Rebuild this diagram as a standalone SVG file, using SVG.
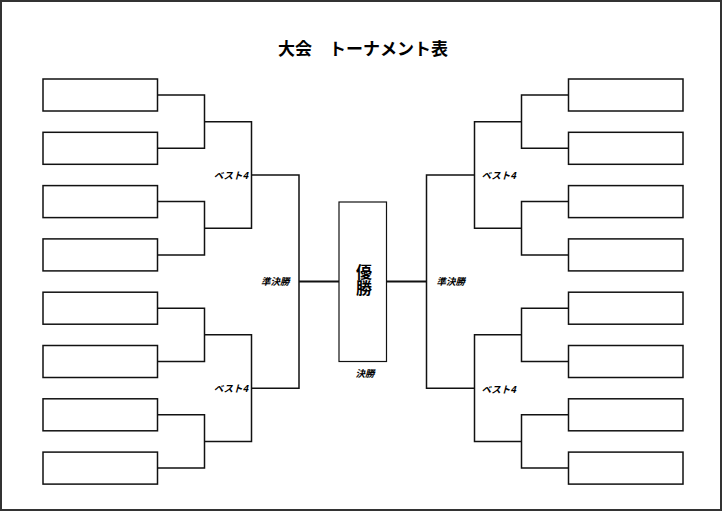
<svg xmlns="http://www.w3.org/2000/svg" width="723" height="512" viewBox="0 0 723 512">
<style>
.frame{fill:none;stroke:#333;stroke-width:2}
.box{fill:#fff;stroke:#111;stroke-width:1.5}
.champ{fill:#fff;stroke:#111;stroke-width:1.2}
.ln{fill:none;stroke:#111;stroke-width:1.5}
.fin{fill:none;stroke:#111;stroke-width:2}
.title{font-family:"Noto Sans CJK JP","Noto Sans",sans-serif;font-weight:bold;font-size:17px;fill:#000}
.lbl{font-family:"Noto Sans CJK JP","Noto Sans",sans-serif;font-weight:bold;font-style:italic;font-size:9.5px;fill:#000}
.win{font-family:"Noto Sans CJK JP","Noto Sans",sans-serif;font-weight:bold;font-size:16px;fill:#000}
</style>
<rect x="0" y="0" width="723" height="512" fill="#fff"/>
<rect class="frame" x="1" y="1" width="720" height="509"/>
<text class="title" x="363" y="55" text-anchor="middle">大会　トーナメント表</text>

<g id="connectors">
<path class="ln" d="M157.5,95 H204.5 V148.3 H157.5 M157.5,201.6 H204.5 V254.9 H157.5 M157.5,308.2 H204.5 V361.5 H157.5 M157.5,414.8 H204.5 V468.1 H157.5"/>
<path class="ln" d="M204.5,121.65 H251.5 V228.25 H204.5 M204.5,334.85 H251.5 V441.45 H204.5"/>
<path class="ln" d="M251.5,174.95 H299 V388.15 H251.5"/>
<path class="fin" d="M299,281.55 H339"/>
<path class="ln" d="M568.5,95 H521.5 V148.3 H568.5 M568.5,201.6 H521.5 V254.9 H568.5 M568.5,308.2 H521.5 V361.5 H568.5 M568.5,414.8 H521.5 V468.1 H568.5"/>
<path class="ln" d="M521.5,121.65 H474.5 V228.25 H521.5 M521.5,334.85 H474.5 V441.45 H521.5"/>
<path class="ln" d="M474.5,174.95 H426.5 V388.15 H474.5"/>
<path class="fin" d="M426.5,281.55 H386.5"/>
</g>

<g id="L1"><rect class="box" x="43" y="79" width="114.5" height="32"/></g>
<g id="L2"><rect class="box" x="43" y="132.3" width="114.5" height="32"/></g>
<g id="L3"><rect class="box" x="43" y="185.6" width="114.5" height="32"/></g>
<g id="L4"><rect class="box" x="43" y="238.9" width="114.5" height="32"/></g>
<g id="L5"><rect class="box" x="43" y="292.2" width="114.5" height="32"/></g>
<g id="L6"><rect class="box" x="43" y="345.5" width="114.5" height="32"/></g>
<g id="L7"><rect class="box" x="43" y="398.8" width="114.5" height="32"/></g>
<g id="L8"><rect class="box" x="43" y="452.1" width="114.5" height="32"/></g>

<g id="R1"><rect class="box" x="568.5" y="79" width="114.5" height="32"/></g>
<g id="R2"><rect class="box" x="568.5" y="132.3" width="114.5" height="32"/></g>
<g id="R3"><rect class="box" x="568.5" y="185.6" width="114.5" height="32"/></g>
<g id="R4"><rect class="box" x="568.5" y="238.9" width="114.5" height="32"/></g>
<g id="R5"><rect class="box" x="568.5" y="292.2" width="114.5" height="32"/></g>
<g id="R6"><rect class="box" x="568.5" y="345.5" width="114.5" height="32"/></g>
<g id="R7"><rect class="box" x="568.5" y="398.8" width="114.5" height="32"/></g>
<g id="R8"><rect class="box" x="568.5" y="452.1" width="114.5" height="32"/></g>

<g id="champion">
<rect class="champ" x="339" y="202" width="47.5" height="159.5"/>
<text class="win" x="364" y="264" writing-mode="vertical-rl">優勝</text>
</g>

<g id="labels">
<text class="lbl" x="248" y="178.5" text-anchor="end">ベスト4</text>
<text class="lbl" x="248" y="391.7" text-anchor="end">ベスト4</text>
<text class="lbl" x="481.5" y="178.5">ベスト4</text>
<text class="lbl" x="481.5" y="392.5">ベスト4</text>
<text class="lbl" x="289.5" y="285.3" text-anchor="end">準決勝</text>
<text class="lbl" x="436.5" y="285.3">準決勝</text>
<text class="lbl" x="365" y="377" text-anchor="middle">決勝</text>
</g>
</svg>
